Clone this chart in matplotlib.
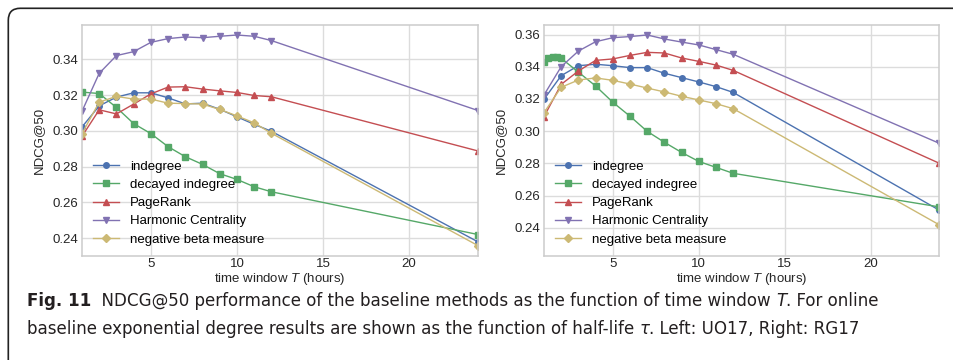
import matplotlib
matplotlib.use("Agg")
import matplotlib.pyplot as plt
from matplotlib.patches import FancyBboxPatch
from matplotlib import font_manager

# ---------------- data ----------------
x_std = [1, 2, 3, 4, 5, 6, 7, 8, 9, 10, 11, 12, 24]
x_dec_right = [1, 1.25, 1.5, 1.75, 2, 3, 4, 5, 6, 7, 8, 9, 10, 11, 12, 24]

left_indegree = [0.3022, 0.3140, 0.3189, 0.3213, 0.3213, 0.3185, 0.3151, 0.3155, 0.3121, 0.3079, 0.3037, 0.2998, 0.2380]
left_decayed = [0.3217, 0.3209, 0.3131, 0.3041, 0.2985, 0.2912, 0.2856, 0.2813, 0.2761, 0.2729, 0.2688, 0.2660, 0.2421]
left_pagerank = [0.2970, 0.3118, 0.3095, 0.3150, 0.3207, 0.3245, 0.3247, 0.3234, 0.3224, 0.3215, 0.3198, 0.3191, 0.2888]
left_harmonic = [0.3110, 0.3322, 0.3421, 0.3443, 0.3495, 0.3516, 0.3525, 0.3521, 0.3529, 0.3536, 0.3529, 0.3505, 0.3114]
left_negbeta = [0.2985, 0.3161, 0.3193, 0.3178, 0.3178, 0.3155, 0.3153, 0.3150, 0.3120, 0.3084, 0.3045, 0.2987, 0.2359]

right_indegree = [0.3198, 0.3345, 0.3407, 0.3416, 0.3407, 0.3395, 0.3395, 0.3360, 0.3333, 0.3306, 0.3277, 0.3241, 0.2508]
right_decayed = [0.3432, 0.3453, 0.3459, 0.3461, 0.3453, 0.3367, 0.3281, 0.3180, 0.3093, 0.2999, 0.2931, 0.2868, 0.2812, 0.2775, 0.2738, 0.2529]
right_pagerank = [0.3090, 0.3291, 0.3374, 0.3440, 0.3449, 0.3471, 0.3490, 0.3486, 0.3455, 0.3434, 0.3411, 0.3378, 0.2800]
right_harmonic = [0.3225, 0.3401, 0.3498, 0.3556, 0.3581, 0.3588, 0.3598, 0.3573, 0.3554, 0.3536, 0.3507, 0.3478, 0.2924]
right_negbeta = [0.3115, 0.3273, 0.3318, 0.3331, 0.3316, 0.3293, 0.3268, 0.3244, 0.3217, 0.3194, 0.3171, 0.3140, 0.2417]

labels = ["indegree", "decayed indegree", "PageRank", "Harmonic Centrality", "negative beta measure"]
left_yticks = [0.24, 0.26, 0.28, 0.30, 0.32, 0.34]
right_yticks = [0.24, 0.26, 0.28, 0.30, 0.32, 0.34, 0.36]
xticks = [5, 10, 15, 20]

colors = ["#4C72B0", "#55A868", "#C44E52", "#8172B2", "#CCB974"]
markers = ["o", "s", "^", "v", "D"]
msizes = [4, 4, 4, 4, 4]

plt.rcParams["font.family"] = ["Liberation Sans", "DejaVu Sans"]
plt.rcParams["mathtext.fontset"] = "custom"
plt.rcParams["mathtext.it"] = "Liberation Sans:italic"
plt.rcParams["mathtext.rm"] = "Liberation Sans"

W, H = 954, 360
fig = plt.figure(figsize=(W / 100, H / 100), dpi=100)
fig.patch.set_facecolor("white")


def px_axes(l, t, r, b):
    return fig.add_axes([l / W, 1 - b / H, (r - l) / W, (b - t) / H])


def style_axes(ax, yticks, ylim):
    ax.set_facecolor("white")
    for s in ax.spines.values():
        s.set_color("#cccccc")
        s.set_linewidth(1.1)
    ax.grid(True, color="#dcdcdc", linewidth=1.0)
    ax.set_axisbelow(True)
    ax.tick_params(length=0, labelsize=9.5, colors="#262626", pad=3)
    ax.tick_params(axis="x", pad=1.5)
    ax.set_xlim(1, 24)
    ax.set_ylim(*ylim)
    ax.set_xticks(xticks)
    ax.set_yticks(yticks)
    ax.set_yticklabels([f"{v:.2f}" for v in yticks])
    ax.set_xlabel("time window $T$ (hours)", fontsize=9.5, color="#262626", labelpad=1)
    ax.set_ylabel("NDCG@50", fontsize=9.5, color="#262626", labelpad=5)


def draw(ax, xs_list, ys_list):
    for xs, ys, c, m, ms, lab in zip(xs_list, ys_list, colors, markers, msizes, labels):
        ax.plot(xs, ys, color=c, marker=m, markersize=ms, linewidth=1.0, label=lab)
    ax.legend(loc="lower left", bbox_to_anchor=(0.028, 0.045), frameon=False,
              fontsize=9.5, handlelength=2.0, handletextpad=0.8, labelspacing=0.45,
              borderaxespad=0, borderpad=0)


ax1 = px_axes(82, 25, 478, 256)
style_axes(ax1, left_yticks, (0.2301, 0.3592))
draw(ax1, [x_std] * 5, [left_indegree, left_decayed, left_pagerank, left_harmonic, left_negbeta])

ax2 = px_axes(544, 25, 939.5, 256)
style_axes(ax2, right_yticks, (0.2224, 0.3660))
draw(ax2, [x_std, x_dec_right, x_std, x_std, x_std],
     [right_indegree, right_decayed, right_pagerank, right_harmonic, right_negbeta])

# frame
frame = FancyBboxPatch((8.3 / 100, -1.0), 12.0, (H - 8.3) / 100 + 1.0,
                       boxstyle="round,pad=0,rounding_size=0.12",
                       transform=fig.dpi_scale_trans, facecolor="none",
                       edgecolor="#222222", linewidth=1.2, clip_on=False)
fig.patches.append(frame)

# caption font: prefer a narrow face if present
names = {f.name for f in font_manager.fontManager.ttflist}
cond = [f for f in font_manager.fontManager.ttflist
        if f.name == "DejaVu Sans" and str(f.stretch) in ("condensed", "semi-condensed")]
if "Liberation Sans Narrow" in names:
    cap_family = ["Liberation Sans Narrow", "DejaVu Sans"]
    cap_stretch = "normal"
elif cond:
    cap_family = ["DejaVu Sans"]
    cap_stretch = "condensed"
else:
    cap_family = ["Liberation Sans", "DejaVu Sans"]
    cap_stretch = "normal"

renderer = fig.canvas.get_renderer()

line1 = [("Fig. 11", "bold", "normal"),
         ("  NDCG@50 performance of the baseline methods as the function of time window ", "normal", "normal"),
         ("T", "normal", "italic"),
         (". For online", "normal", "normal")]
line2 = [("baseline exponential degree results are shown as the function of half-life ", "normal", "normal"),
         ("\u03c4", "normal", "italic"),
         (". Left: UO17, Right: RG17", "normal", "normal")]


def draw_pieces(pieces, x_px, y_px, size):
    x = x_px
    made = []
    for txt, weight, style in pieces:
        t = fig.text(x / W, 1 - y_px / H, txt, fontsize=size, family=cap_family,
                     stretch=cap_stretch, weight=weight, style=style,
                     color="#231f20", va="baseline", ha="left")
        bb = t.get_window_extent(renderer=renderer)
        x += bb.width
        made.append(t)
    return made, x - x_px


# fit caption line 1 to the reference width (~858 px)
probe, w = draw_pieces(line1, 27, 306, 14.0)
for t in probe:
    t.remove()
cap_size = 14.0 * 858.0 / w

draw_pieces(line1, 27, 306, cap_size)
draw_pieces(line2, 27, 334, cap_size)

fig.savefig("out.png", dpi=100, facecolor="white")
